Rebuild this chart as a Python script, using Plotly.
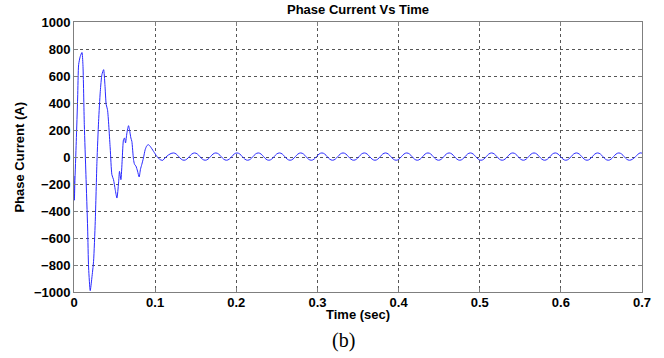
import plotly.graph_objects as go

# Transient part (seconds, amps)
t_transient = [0.0, 0.0005, 0.001, 0.0028, 0.0045, 0.0057, 0.0077, 0.0098, 0.011, 0.0127,
               0.0147, 0.0168, 0.018, 0.020, 0.022, 0.0241, 0.0262, 0.0283, 0.0303, 0.0324,
               0.0344, 0.0365, 0.0381, 0.0397, 0.0413, 0.0446, 0.0467, 0.0487, 0.0508, 0.0529,
               0.0549, 0.0561, 0.0578, 0.0594, 0.061, 0.0623, 0.0635, 0.0652, 0.0672, 0.0684,
               0.0701, 0.0713, 0.0733, 0.0746, 0.0763, 0.0783, 0.0803, 0.0819, 0.0836, 0.0856,
               0.0877, 0.0898, 0.0918, 0.0939, 0.098, 0.1021, 0.1062, 0.1094]
i_transient = [-140, -320, -200, 116, 437, 684, 745, 774, 684, 239,
               -131, -526, -822, -990, -896, -773, -477, -32, 264, 486,
               610, 647, 536, 388, 350, 67, -131, -168, -242, -304,
               -193, -106, -168, -20, 128, 141, 104, 178, 232, 202,
               141, 116, -17, -54, -67, -104, -148, -91, -54, -7,
               54, 84, 91, 79, 42, 5, -20, -25]

# Steady-state ripple: successive peaks and troughs
t_steady = [0.1094, 0.1225, 0.1356, 0.1486, 0.1617, 0.1748, 0.1879, 0.2009, 0.2140, 0.2271, 0.2401,
            0.2532, 0.2663, 0.2794, 0.2924, 0.3055, 0.3186, 0.3316, 0.3447, 0.3578, 0.3709,
            0.3839, 0.3970, 0.4101, 0.4231, 0.4362, 0.4493, 0.4623, 0.4754, 0.4885, 0.5016,
            0.5146, 0.5277, 0.5408, 0.5538, 0.5669, 0.5800, 0.5931, 0.6061, 0.6192, 0.6323,
            0.6453, 0.6584, 0.6715, 0.6845, 0.6976, 0.7000]
i_steady = [-25, 30, -24, 30, -24, 30, -24, 30, -24, 30, -24,
            30, -24, 30, -24, 30, -24, 30, -24, 30, -24,
            30, -24, 30, -24, 30, -24, 30, -24, 30, -24,
            30, -24, 30, -24, 30, -24, 30, -24, 30, -24,
            30, -24, 30, -24, 30, 28]

x_ticks = [0, 0.1, 0.2, 0.3, 0.4, 0.5, 0.6, 0.7]
x_tick_labels = ["0", "0.1", "0.2", "0.3", "0.4", "0.5", "0.6", "0.7"]
y_ticks = [-1000, -800, -600, -400, -200, 0, 200, 400, 600, 800, 1000]

W, H = 664, 358
L, R, T, B = 73.5, 22, 22, 66
bold = dict(family="Arial, Liberation Sans", size=13, color="black", weight="bold")

fig = go.Figure()
fig.add_trace(go.Scatter(x=t_transient, y=i_transient,
                         mode="lines", line=dict(color="#2a2aff", width=1, shape="spline", smoothing=0.6),
                         showlegend=False, hoverinfo="skip"))
fig.add_trace(go.Scatter(x=t_steady, y=i_steady,
                         mode="lines", line=dict(color="#2a2aff", width=1, shape="spline", smoothing=1.2),
                         showlegend=False, hoverinfo="skip"))

axis_common = dict(showline=True, linecolor="#7f7f7f", linewidth=1, mirror="ticks",
                   ticks="inside", ticklen=4, tickcolor="#7f7f7f",
                   showgrid=True, gridcolor="#555555", griddash="dot", gridwidth=1,
                   zeroline=False, automargin=False, tickfont=bold)

def px_x(x):
    return (x - L) / (W - L - R)

def px_y(y):
    return (H - B - y) / (H - T - B)

fig.update_layout(
    width=W, height=H,
    margin=dict(l=L, r=R, t=T, b=B, autoexpand=False),
    paper_bgcolor="white", plot_bgcolor="white",
    xaxis=dict(range=[0, 0.7], tickvals=x_ticks, ticktext=x_tick_labels, ticklabelstandoff=-2, **axis_common),
    yaxis=dict(range=[-1000, 1000], tickvals=y_ticks, ticklabelstandoff=0, **axis_common),
)

fig.add_annotation(text="Phase Current Vs Time", xref="paper", yref="paper", x=px_x(358), y=px_y(9),
                   xanchor="center", yanchor="middle", showarrow=False, font=bold)
fig.add_annotation(text="Time (sec)", xref="paper", yref="paper", x=px_x(358), y=px_y(314),
                   xanchor="center", yanchor="middle", showarrow=False, font=bold)
fig.add_annotation(text="Phase Current (A)", xref="paper", yref="paper", x=px_x(18), y=px_y(157),
                   xanchor="center", yanchor="middle", textangle=-90, showarrow=False, font=bold)
fig.add_annotation(text="(b)", xref="paper", yref="paper", x=px_x(343), y=px_y(340),
                   xanchor="center", yanchor="middle", showarrow=False,
                   font=dict(family="Liberation Serif, Times New Roman", size=20, color="black"))

fig.write_html("out.html", config={"displayModeBar": False},
               post_script="document.body.style.margin='0px';")
